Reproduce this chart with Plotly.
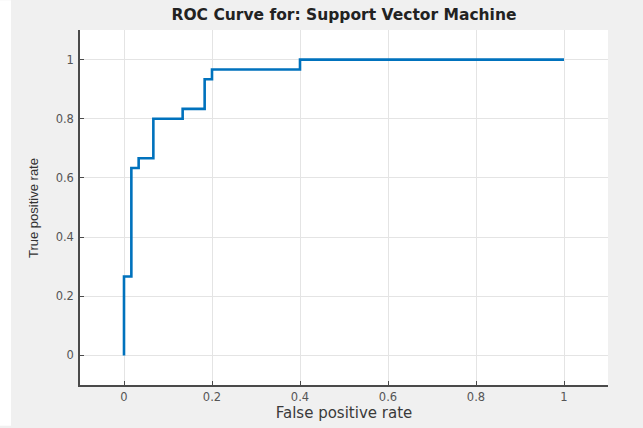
import plotly.graph_objects as go

# ROC operating points (step curve, horizontal-then-vertical)
fpr = [0.0, 0.0, 0.0167, 0.0333, 0.0667, 0.1333, 0.1833, 0.2, 0.4, 1.0]
tpr = [0.0, 0.2667, 0.6333, 0.6667, 0.8, 0.8333, 0.9333, 0.9667, 1.0, 1.0]

x_ticks = [0, 0.2, 0.4, 0.6, 0.8, 1]
y_ticks = [0, 0.2, 0.4, 0.6, 0.8, 1]

W, H = 643, 428
L, R, T, B = 80, 35, 30, 41
plot_w, plot_h = W - L - R, H - T - B

WIDE = "DejaVu Sans, Verdana, sans-serif"

fig = go.Figure()
fig.add_trace(go.Scatter(
    x=fpr, y=tpr, mode="lines", line_shape="hv",
    line=dict(color="#0072BD", width=2.6), showlegend=False,
))

axis_common = dict(
    showline=True, linecolor="#4a4a4a", linewidth=1.5, mirror=False,
    ticks="inside", ticklen=4, tickcolor="#4a4a4a", tickwidth=1,
    showgrid=True, gridcolor="#e4e4e4", gridwidth=1, zeroline=False,
    tickfont=dict(family=WIDE, size=11.5, color="#555555"),
)

fig.update_xaxes(range=[-0.1, 1.1], tickvals=x_ticks, ticktext=[f"{v:g}" for v in x_ticks],
                 title=dict(text="False positive rate", standoff=2,
                            font=dict(family=WIDE, size=15, color="#3a3a3a")),
                 **axis_common)
fig.update_yaxes(range=[-0.1, 1.1], tickvals=y_ticks, ticktext=[f"{v:g}" for v in y_ticks],
                 ticklabelstandoff=2, **axis_common)

# y-axis title
fig.add_annotation(text="True positive rate", textangle=-90, showarrow=False,
                   xref="paper", yref="paper", x=(34 - L) / plot_w, y=(H - B - 209) / plot_h,
                   xanchor="center", yanchor="middle",
                   font=dict(family="Liberation Sans, Arial, sans-serif", size=13, color="#333333"))

# thin white strip along the left edge of the figure
fig.add_shape(type="rect", xref="paper", yref="paper", layer="below",
              x0=-L / plot_w, x1=(11 - L) / plot_w,
              y0=-B / plot_h, y1=1 + T / plot_h,
              fillcolor="white", line_width=0)

fig.update_layout(
    width=W, height=H,
    margin=dict(l=L, r=R, t=T, b=B),
    paper_bgcolor="#f0f0f0", plot_bgcolor="white",
    title=dict(text="<b>ROC Curve for: Support Vector Machine</b>",
               x=(L + plot_w / 2) / W, xanchor="center", y=1 - 15 / H, yanchor="middle",
               font=dict(family=WIDE, size=15.5, color="#222")),
)

fig.write_html("out.html")
